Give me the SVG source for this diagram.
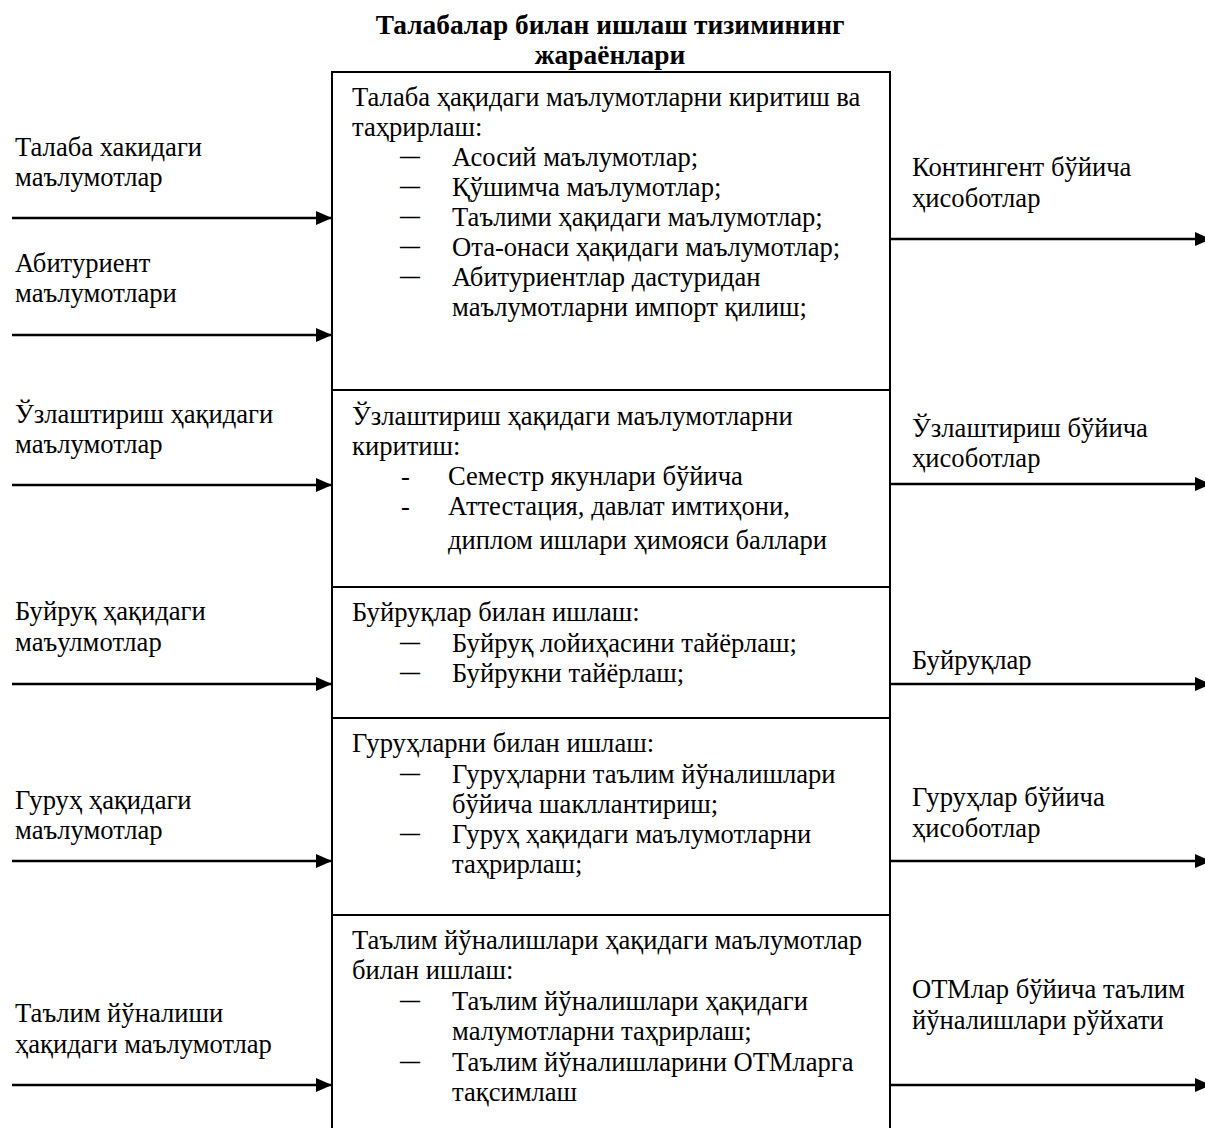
<svg xmlns="http://www.w3.org/2000/svg" width="1205" height="1128" viewBox="0 0 1205 1128">
<defs>
<style>
text{font-family:"Liberation Serif","Times New Roman",serif;font-size:26.6px;fill:#000}
.title{font-weight:bold;font-size:27.4px;text-anchor:middle}
.dash{font-size:20px;font-weight:bold}
.box{fill:#fff;stroke:#000;stroke-width:2}
.div{stroke:#000;stroke-width:2}
.arr{stroke:#000;stroke-width:2.4;fill:none;marker-end:url(#ah)}
</style>
<marker id="ah" viewBox="0 0 16 14" refX="16" refY="7" markerWidth="16" markerHeight="14" markerUnits="userSpaceOnUse" orient="auto">
<path d="M0,0 L16,7 L0,14 Z" fill="#000"/>
</marker>
</defs>
<rect width="1205" height="1128" fill="#fff"/>
<g id="title">
<text class="title" x="610" y="34">Талабалар билан ишлаш тизимининг</text>
<text class="title" x="610" y="64">жараёнлари</text>
</g>
<g id="process-box">
<rect class="box" x="332" y="72" width="558" height="1080"/>
<line class="div" x1="332" y1="390" x2="890" y2="390"/>
<line class="div" x1="332" y1="587" x2="890" y2="587"/>
<line class="div" x1="332" y1="718" x2="890" y2="718"/>
<line class="div" x1="332" y1="915" x2="890" y2="915"/>
</g>
<g id="sec1">
<text x="352" y="106">Талаба ҳақидаги маълумотларни киритиш ва</text>
<text x="352" y="136">таҳрирлаш:</text>
<text class="dash" x="400" y="163">—</text><text x="452" y="166">Асосий маълумотлар;</text>
<text class="dash" x="400" y="193">—</text><text x="452" y="196">Қўшимча маълумотлар;</text>
<text class="dash" x="400" y="223">—</text><text x="452" y="226">Таълими ҳақидаги маълумотлар;</text>
<text class="dash" x="400" y="253">—</text><text x="452" y="256">Ота-онаси ҳақидаги маълумотлар;</text>
<text class="dash" x="400" y="283">—</text><text x="452" y="286">Абитуриентлар дастуридан</text>
<text x="452" y="316">маълумотларни импорт қилиш;</text>
</g>
<g id="sec2">
<text x="352" y="425">Ўзлаштириш ҳақидаги маълумотларни</text>
<text x="352" y="455">киритиш:</text>
<text x="401" y="485">-</text><text x="448" y="485">Семестр якунлари бўйича</text>
<text x="401" y="515">-</text><text x="448" y="515">Аттестация, давлат имтиҳони,</text>
<text x="448" y="549">диплом ишлари ҳимояси баллари</text>
</g>
<g id="sec3">
<text x="352" y="621">Буйруқлар билан ишлаш:</text>
<text class="dash" x="400" y="649">—</text><text x="452" y="652">Буйруқ лойиҳасини тайёрлаш;</text>
<text class="dash" x="400" y="679">—</text><text x="452" y="682">Буйрукни тайёрлаш;</text>
</g>
<g id="sec4">
<text x="352" y="752">Гуруҳларни билан ишлаш:</text>
<text class="dash" x="400" y="780">—</text><text x="452" y="783">Гуруҳларни таълим йўналишлари</text>
<text x="452" y="813">бўйича шакллантириш;</text>
<text class="dash" x="400" y="840">—</text><text x="452" y="843">Гуруҳ ҳақидаги маълумотларни</text>
<text x="452" y="873">таҳрирлаш;</text>
</g>
<g id="sec5">
<text x="352" y="949">Таълим йўналишлари ҳақидаги маълумотлар</text>
<text x="352" y="979">билан ишлаш:</text>
<text class="dash" x="400" y="1007">—</text><text x="452" y="1010">Таълим йўналишлари ҳақидаги</text>
<text x="452" y="1040">малумотларни таҳрирлаш;</text>
<text class="dash" x="400" y="1068">—</text><text x="452" y="1071">Таълим йўналишларини ОТМларга</text>
<text x="452" y="1101">тақсимлаш</text>
</g>
<g id="inputs">
<g id="in1"><text x="15" y="156">Талаба хакидаги</text><text x="15" y="186">маълумотлар</text></g>
<g id="in2"><text x="15" y="272">Абитуриент</text><text x="15" y="302">маълумотлари</text></g>
<g id="in3"><text x="15" y="423">Ўзлаштириш ҳақидаги</text><text x="15" y="453">маълумотлар</text></g>
<g id="in4"><text x="15" y="620">Буйруқ ҳақидаги</text><text x="15" y="651">маъулмотлар</text></g>
<g id="in5"><text x="15" y="809">Гуруҳ ҳақидаги</text><text x="15" y="839">маълумотлар</text></g>
<g id="in6"><text x="15" y="1022">Таълим йўналиши</text><text x="15" y="1053">ҳақидаги маълумотлар</text></g>
</g>
<g id="outputs">
<g id="out1"><text x="912" y="176">Контингент бўйича</text><text x="912" y="207">ҳисоботлар</text></g>
<g id="out2"><text x="912" y="437">Ўзлаштириш бўйича</text><text x="912" y="467">ҳисоботлар</text></g>
<g id="out3"><text x="912" y="669">Буйруқлар</text></g>
<g id="out4"><text x="912" y="806">Гуруҳлар бўйича</text><text x="912" y="837">ҳисоботлар</text></g>
<g id="out5"><text x="912" y="998">ОТМлар бўйича таълим</text><text x="912" y="1029">йўналишлари рўйхати</text></g>
</g>
<g id="connectors">
<line class="arr" x1="12" y1="218" x2="332" y2="218"/>
<line class="arr" x1="12" y1="335" x2="332" y2="335"/>
<line class="arr" x1="12" y1="485" x2="332" y2="485"/>
<line class="arr" x1="12" y1="684" x2="332" y2="684"/>
<line class="arr" x1="12" y1="861" x2="332" y2="861"/>
<line class="arr" x1="12" y1="1085" x2="332" y2="1085"/>
<line class="arr" x1="890" y1="239" x2="1211" y2="239"/>
<line class="arr" x1="890" y1="484" x2="1211" y2="484"/>
<line class="arr" x1="890" y1="684" x2="1211" y2="684"/>
<line class="arr" x1="890" y1="861" x2="1211" y2="861"/>
<line class="arr" x1="890" y1="1085" x2="1211" y2="1085"/>
</g>
</svg>
